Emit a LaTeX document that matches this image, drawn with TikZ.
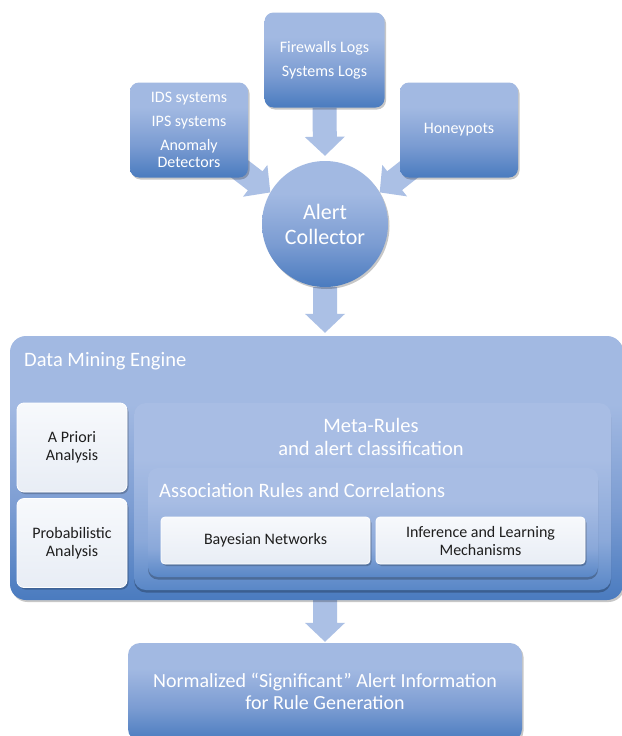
\documentclass[tikz,border=0pt]{standalone}
\usepackage{fontspec}
\setmainfont{Carlito}
\usetikzlibrary{calc,shadows}

\definecolor{btop}{HTML}{A2B9E2}
\definecolor{bmid}{HTML}{7B9CD2}
\definecolor{bbot}{HTML}{4A7BBF}
\definecolor{mtop}{HTML}{A8BDE4}
\definecolor{mmid}{HTML}{8AA8D9}
\definecolor{mbot}{HTML}{5987C7}
\definecolor{arrowblue}{HTML}{ABC0E5}
\definecolor{wtop}{HTML}{F7F9FC}
\definecolor{wbot}{HTML}{E8EDF5}
\definecolor{darktext}{HTML}{1E1E1E}

% vertical fades; the path is mapped onto the 25bp..75bp band
\pgfdeclareverticalshading{bluefade}{100bp}{color(0bp)=(bbot); color(25bp)=(bbot); color(42bp)=(bmid); color(62bp)=(btop); color(75bp)=(btop); color(100bp)=(btop)}
\pgfdeclareverticalshading{innerfade}{100bp}{color(0bp)=(mbot); color(25bp)=(mbot); color(38bp)=(mmid); color(60bp)=(mtop); color(75bp)=(mtop); color(100bp)=(mtop)}

\pgfdeclarelayer{bg}
\pgfsetlayers{bg,main}

% block arrow from #1 to #2 (shaft 24pt, head 40pt wide, 19pt long)
\newcommand\fatarrow[2]{%
  \coordinate (fa-b) at ($(#2)!19pt!(#1)$);
  \fill[arrowblue] ($(#1)!12pt!90:(#2)$) -- ($(fa-b)!12pt!90:(#2)$)
    -- ($(fa-b)!20pt!90:(#2)$) -- (#2) -- ($(fa-b)!20pt!-90:(#2)$)
    -- ($(fa-b)!12pt!-90:(#2)$) -- ($(#1)!12pt!-90:(#2)$) -- cycle;}

\tikzset{
  softshadow/.style={drop shadow={shadow xshift=1.5pt, shadow yshift=-2pt, opacity=.22, fill=black}},
  bluebox/.style={rectangle, rounded corners=9pt, shading=bluefade, text=white,
    align=center, inner sep=0pt, font=\fontsize{16}{17}\selectfont, softshadow},
  whitebox/.style={rectangle, rounded corners=7pt, top color=wtop, bottom color=wbot,
    draw=white, line width=0.8pt, text=darktext, align=center, inner sep=0pt,
    font=\fontsize{16}{18}\selectfont, softshadow},
  innerbox/.style={rectangle, rounded corners=12pt, shading=innerfade, inner sep=0pt,
    drop shadow={shadow xshift=0pt, shadow yshift=-2.5pt, opacity=.25, fill=black}},
  bigtext/.style={text=white, inner sep=0pt, font=\fontsize{20.5}{23}\selectfont, align=center},
}

\begin{document}
\begin{tikzpicture}[x=1pt, y=-1pt]
\useasboundingbox (0,0) rectangle (621,736);

% sources
\node[bluebox, minimum width=120pt, minimum height=95pt] (fw) at (324.5,60)
  {Firewalls Logs\\[7pt]Systems Logs};
\node[bluebox, minimum width=118pt, minimum height=95pt] (ids) at (189,130)
  {IDS systems\\[7pt]IPS systems\\[7pt]Anomaly\\Detectors};
\node[bluebox, minimum width=118pt, minimum height=95pt] (hp) at (459,130)
  {Honeypots};

% collector
\node[circle, minimum size=126pt, inner sep=0pt, shading=bluefade, softshadow,
  text=white, align=center, font=\fontsize{22}{25}\selectfont] (ac) at (325,224)
  {Alert\\Collector};

% data mining engine
\node[rectangle, rounded corners=16pt, shading=bluefade, inner sep=0pt,
  minimum width=613pt, minimum height=264pt, softshadow] (dme) at (316.5,468) {};
\node[bigtext, anchor=west] (dmetitle) at (24,361) {Data Mining Engine};

\node[whitebox, minimum width=110pt, minimum height=89pt] (ap) at (72,447.5)
  {A Priori\\Analysis};
\node[whitebox, minimum width=110pt, minimum height=89pt] (pa) at (72,543)
  {Probabilistic\\Analysis};

\node[innerbox, minimum width=477pt, minimum height=187pt] (meta) at (372.5,496.5) {};
\node[bigtext] (metatitle) at (371,437) {Meta-Rules\\and alert classification};

\node[innerbox, rounded corners=10pt, minimum width=450pt, minimum height=109pt] (assoc) at (373,522.5) {};
\node[bigtext, anchor=west] (assoctitle) at (159,490) {Association Rules and Correlations};

\node[whitebox, rounded corners=4pt, minimum width=209pt, minimum height=47pt] (bn) at (265.5,540.5)
  {Bayesian Networks};
\node[whitebox, rounded corners=4pt, minimum width=209pt, minimum height=47pt] (il) at (480.5,540.5)
  {Inference and Learning\\Mechanisms};

% output
\node[rectangle, rounded corners=12pt, shading=bluefade, inner sep=0pt,
  minimum width=394pt, minimum height=98pt, softshadow] (out) at (325,692) {};
\node[bigtext, font=\fontsize{20}{22}\selectfont] (outtext) at (325,691)
  {Normalized “Significant” Alert Information\\for Rule Generation};

% white ground and flow arrows, kept behind the shapes
\begin{pgfonlayer}{bg}
  \fill[white] (0,0) rectangle (621,736);
  \coordinate (t1) at ($(ac.north)+(0,-5)$);
  \fatarrow{fw.south}{t1}
  \coordinate (s2) at ($(ac.150)!62pt!(ids.center)$);
  \fatarrow{s2}{ac.150}
  \coordinate (s3) at ($(ac.30)!62pt!(hp.center)$);
  \fatarrow{s3}{ac.30}
  \coordinate (t4) at ($(dme.north -| ac.south)+(0,-3)$);
  \fatarrow{ac.south}{t4}
  \coordinate (s5) at (dme.south -| out.north);
  \coordinate (t5) at ($(out.north)+(0,-1)$);
  \fatarrow{s5}{t5}
\end{pgfonlayer}
\end{tikzpicture}
\end{document}
